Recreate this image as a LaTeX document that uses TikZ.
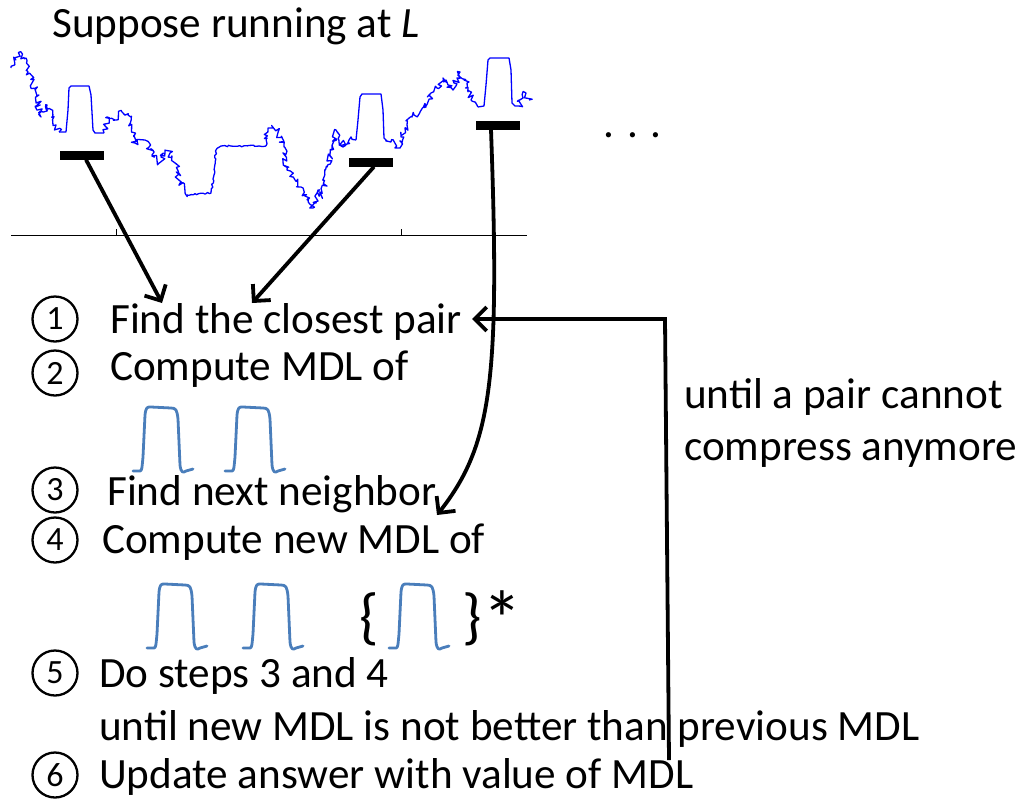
\documentclass[tikz,border=0pt]{standalone}
\usepackage{fontspec}
\setmainfont{Carlito}
\usetikzlibrary{arrows.meta, decorations.pathmorphing}
\definecolor{seriesblue}{RGB}{0,0,255}
\definecolor{motifblue}{RGB}{74,126,187}
\tikzstyle{txt} = [anchor=base west, inner sep=0, font=\fontsize{43.2}{50}\selectfont]
\tikzstyle{numCircle} = [circle, draw=black, line width=2.3pt, minimum size=45pt, inner sep=0, font=\fontsize{34}{36}\selectfont]
\tikzstyle{arrow} = [line width=3.8pt, -{Straight Barb[length=12pt,width=24pt]}]
\tikzstyle{bar} = [fill=black, inner sep=0, minimum width=44pt, minimum height=9pt]
\tikzstyle{series} = [seriesblue, line width=1.3pt, line join=round]
\tikzstyle{noisy} = [decorate, decoration={random steps, segment length=2pt, amplitude=3.5pt}]
\tikzstyle{motif} = [motifblue, line width=2.8pt, line join=round, line cap=round]
\tikzstyle{brace} = [inner sep=0, font=\fontsize{62}{70}\selectfont]
\newcommand{\motifpulse}[2]{%
  \draw[motif, shift={(#1,#2)}] (0,64) -- (7,64) .. controls (9,64) and (9,60) .. (10,50) -- (12,8)
    .. controls (13,0) and (14,0) .. (18,0) -- (38,1) .. controls (43,1) and (44,3) .. (45,12)
    -- (47,58) .. controls (48,66) and (50,66) .. (53,64) -- (60,62);}

\begin{document}
\begin{tikzpicture}[x=1pt, y=-1pt]
\useasboundingbox (0,0) rectangle (1016,798);
\pgfmathsetseed{7}
% time series
\draw [series, noisy] plot coordinates {(11,68) (16,60) (21,52) (28,72) (35,90) (41,117) (47,105) (52,110) (56,125) (59,132)};
\draw [series] (59,132) -- (66,132) -- (68,110) -- (69,88) -- (71,86) -- (89,86) -- (91,95) -- (93,130) -- (95,133) -- (104,133);
\draw [series, noisy] plot coordinates {(104,133) (107,117) (115,120) (122,112) (128,115) (135,143) (145,140) (152,155) (159,163) (165,150) (170,153) (175,163) (180,183) (187,195)};
\draw [series, decorate, decoration={random steps, segment length=2pt, amplitude=0.8pt}] (187,195) -- (211,193) -- (214,175) -- (216,150) -- (221,146) -- (266,146);
\draw [series, noisy] plot coordinates {(266,146) (268,128) (277,130) (284,147) (287,170) (295,180) (301,187) (307,200) (313,208) (318,190) (322,197) (327,167) (332,150) (336,130) (343,147) (349,140) (356,140)};
\draw [series] (356,140) -- (358,120) -- (360,97) -- (362,94) -- (381,94) -- (383,110) -- (384,138) -- (387,141);
\draw [series, noisy] plot coordinates {(387,141) (391,142) (400,148) (401,137) (407,125) (412,117) (420,112) (426,107) (431,93) (437,88) (443,78) (448,85) (453,90) (457,78) (460,72) (464,80) (467,83) (471,100) (478,107)};
\draw [series] (478,107) -- (484,106) -- (486,85) -- (488,60) -- (490,58) -- (509,58) -- (511,70) -- (512,103) -- (515,106) -- (519,106);
\draw [series, noisy] plot coordinates {(519,106) (523,98) (526,93) (529,100)};
% axis
\draw [line width=0.8pt] (11,235) -- (527,235);
\draw [line width=0.8pt] (116,235) -- (116,229);
\draw [line width=0.8pt] (401,235) -- (401,229);
% bars
\node (bar1) [bar] at (82,155) {};
\node (bar2) [bar] at (371,162) {};
\node (bar3) [bar] at (498,125) {};
\node (dots) [txt] at (603,137) {. . .};
\node (title) [txt] at (52,37) {Suppose running at \textit{L}};
% steps
\node (n1) [numCircle] at (55,319) {1};
\node (n2) [numCircle] at (55,373) {2};
\node (n3) [numCircle] at (55,490) {3};
\node (n4) [numCircle] at (55,540) {4};
\node (n5) [numCircle] at (55,673) {5};
\node (n6) [numCircle] at (55,775) {6};
\node (step1) [txt] at (110,333) {Find the closest pair};
\node (step2) [txt] at (110,380) {Compute MDL of};
\node (step3) [txt] at (107,505) {Find next neighbor};
\node (step4) [txt] at (102,553) {Compute new MDL of};
\node (step5) [txt] at (99,687) {Do steps 3 and 4};
\node (step5b) [txt] at (99,740) {until new MDL is not better than previous MDL};
\node (step6) [txt] at (99,788) {Update answer with value of MDL};
\node (cond1) [txt] at (684,408) {until a pair cannot};
\node (cond2) [txt] at (684,460) {compress anymore};
% motifs
\motifpulse{133}{407}
\motifpulse{225}{407}
\motifpulse{147}{584}
\motifpulse{243}{584}
\motifpulse{389}{584}
\node (lbrace) [brace] at (369,619) {\{};
\node (rbrace) [brace] at (472,619) {\}};
\node (star) [anchor=north west, inner sep=0, font=\fontsize{80}{90}\selectfont] at ([xshift=0.5pt, yshift=2pt]rbrace.north east) {*};
% arrows
\coordinate (tip1) at (162,303);
\coordinate (tip2) at (252,303);
\coordinate (tip3) at (437,515);
\coordinate (loopstart) at (669,760);
\coordinate (loopcorner) at (665,319);
\coordinate (looptip) at (472,319);
\draw [arrow] ([xshift=4pt]bar1.south) -- (tip1);
\draw [arrow] ([xshift=3pt]bar2.south) -- (tip2);
\draw [arrow] ([xshift=-7pt]bar3.south) .. controls (500,380) and (492,445) .. (tip3);
\draw [arrow] (loopstart) -- (loopcorner) -- (looptip);
\end{tikzpicture}
\end{document}
